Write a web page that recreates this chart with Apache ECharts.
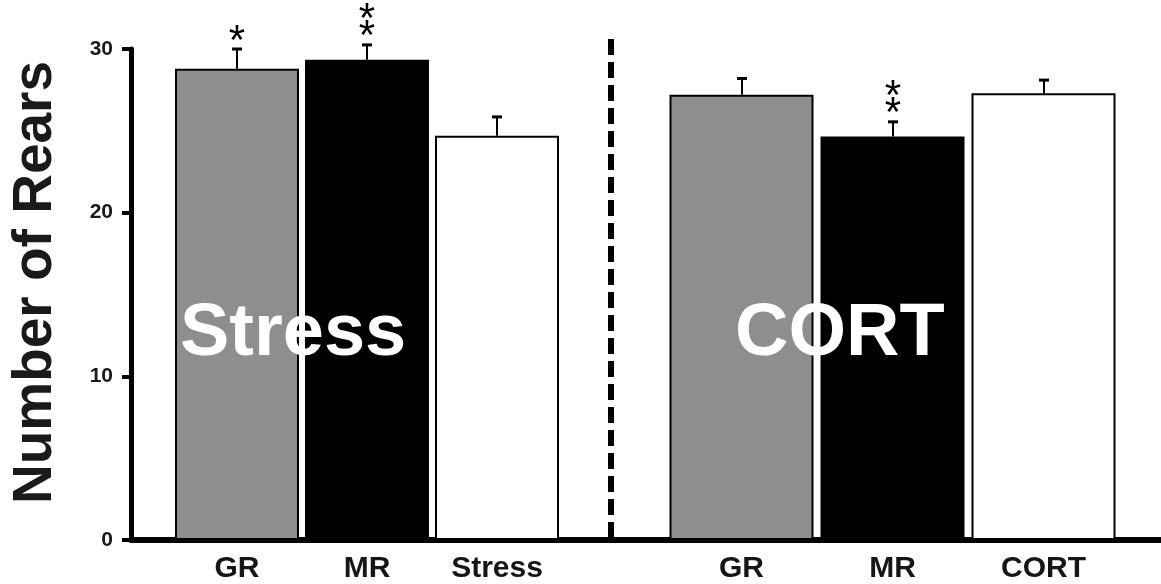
<!DOCTYPE html>
<html>
<head>
<meta charset="utf-8">
<script src="https://cdn.jsdelivr.net/npm/echarts@6/dist/echarts.min.js"></script>
<style>html,body{margin:0;padding:0;background:#fff;}#c{width:1161px;height:584px;}</style>
</head>
<body>
<div id="c"></div>
<script>
// ---- data ----
var stressCats = ['GR', 'MR', 'Stress'];
var stressMeans = [28.8, 29.35, 24.7];
var stressErr = [1.2, 0.9, 1.15];
var stressSig = ['*', '**', ''];

var cortCats = ['GR', 'MR', 'CORT'];
var cortMeans = [27.2, 24.65, 27.3];
var cortErr = [1.0, 0.9, 0.8];
var cortSig = ['', '**', ''];

var barColors = ['#8e8e8e', '#000000', '#ffffff'];
var yTicks = [0, 10, 20, 30];
var FONT = '"Liberation Sans", Arial, Helvetica, sans-serif';

function barData(vals) {
  return vals.map(function (v, i) {
    return { value: v, itemStyle: { color: barColors[i] } };
  });
}
function errData(means, errs, sigs) {
  return means.map(function (m, i) { return [i, m, errs[i], sigs[i].length]; });
}
function renderErr(params, api) {
  var idx = api.value(0), m = api.value(1), e = api.value(2), n = api.value(3);
  var p0 = api.coord([idx, m]);
  var p1 = api.coord([idx, m + e]);
  var x = Math.round(p0[0]);
  var children = [
    { type: 'line', shape: { x1: x, y1: p0[1], x2: x, y2: p1[1] }, style: { stroke: '#000', lineWidth: 2 } },
    { type: 'line', shape: { x1: x - 5, y1: p1[1], x2: x + 5, y2: p1[1] }, style: { stroke: '#000', lineWidth: 3 } }
  ];
  for (var k = 0; k < n; k++) {
    children.push({
      type: 'text',
      style: {
        text: '*', x: x, y: p1[1] + 14 - k * 17,
        textAlign: 'center', textVerticalAlign: 'bottom',
        font: 'normal 42px ' + FONT, fill: '#000'
      }
    });
  }
  return { type: 'group', children: children };
}

var chart = echarts.init(document.getElementById('c'), null, { renderer: 'canvas' });
var option = {
  backgroundColor: '#fff',
  animation: false,
  grid: [
    { left: 130, right: 0, top: 49, bottom: 44 },
    { left: 172, width: 390, top: 49, bottom: 44 },
    { left: 666, width: 453, top: 49, bottom: 44 }
  ],
  xAxis: [
    { gridIndex: 0, type: 'value', min: 0, max: 1, axisLine: { show: true, lineStyle: { color: '#000', width: 6 } },
      axisTick: { show: false }, axisLabel: { show: false }, splitLine: { show: false } },
    { gridIndex: 1, type: 'category', data: stressCats, axisLine: { show: false }, axisTick: { show: false },
      axisLabel: { margin: 14, fontFamily: FONT, fontWeight: 'bold', fontSize: 30, color: '#161616' } },
    { gridIndex: 2, type: 'category', data: cortCats, axisLine: { show: false }, axisTick: { show: false },
      axisLabel: { margin: 14, fontFamily: FONT, fontWeight: 'bold', fontSize: 30, color: '#161616' } }
  ],
  yAxis: [
    { gridIndex: 0, type: 'value', min: yTicks[0], max: yTicks[yTicks.length - 1], interval: 10,
      name: 'Number of Rears', nameLocation: 'middle', nameGap: 68,
      nameTextStyle: { fontFamily: FONT, fontWeight: 'bold', fontSize: 55, color: '#1a1a1a', padding: [0, 0, 0, 24] },
      axisLine: { show: true, lineStyle: { color: '#000', width: 5 } },
      axisTick: { show: true, length: 9, lineStyle: { color: '#000', width: 4 } },
      axisLabel: { margin: 18, fontFamily: FONT, fontWeight: 'bold', fontSize: 21, color: '#1a1a1a' },
      splitLine: { show: false } },
    { gridIndex: 1, type: 'value', min: 0, max: 30, show: false },
    { gridIndex: 2, type: 'value', min: 0, max: 30, show: false }
  ],
  series: [
    { type: 'bar', xAxisIndex: 1, yAxisIndex: 1, barWidth: 124, data: barData(stressMeans),
      itemStyle: { borderColor: '#000', borderWidth: 2 }, z: 2 },
    { type: 'bar', xAxisIndex: 2, yAxisIndex: 2, barWidth: 144, data: barData(cortMeans),
      itemStyle: { borderColor: '#000', borderWidth: 2 }, z: 2 },
    { type: 'custom', xAxisIndex: 1, yAxisIndex: 1, renderItem: renderErr, data: errData(stressMeans, stressErr, stressSig), z: 3 },
    { type: 'custom', xAxisIndex: 2, yAxisIndex: 2, renderItem: renderErr, data: errData(cortMeans, cortErr, cortSig), z: 3 }
  ],
  graphic: [
    { type: 'line', z: 5, shape: { x1: 611, y1: 39, x2: 611, y2: 537 },
      style: { stroke: '#000', lineWidth: 6, lineDash: [16, 7] } },
    { type: 'text', z: 100, style: { text: 'Stress', x: 180, y: 298, textVerticalAlign: 'top',
      font: 'bold 74px ' + FONT, fill: '#fff' } },
    { type: 'text', z: 100, style: { text: 'CORT', x: 735, y: 298, textVerticalAlign: 'top',
      font: 'bold 74px ' + FONT, fill: '#fff' } }
  ]
};
chart.setOption(option);
</script>
</body>
</html>
